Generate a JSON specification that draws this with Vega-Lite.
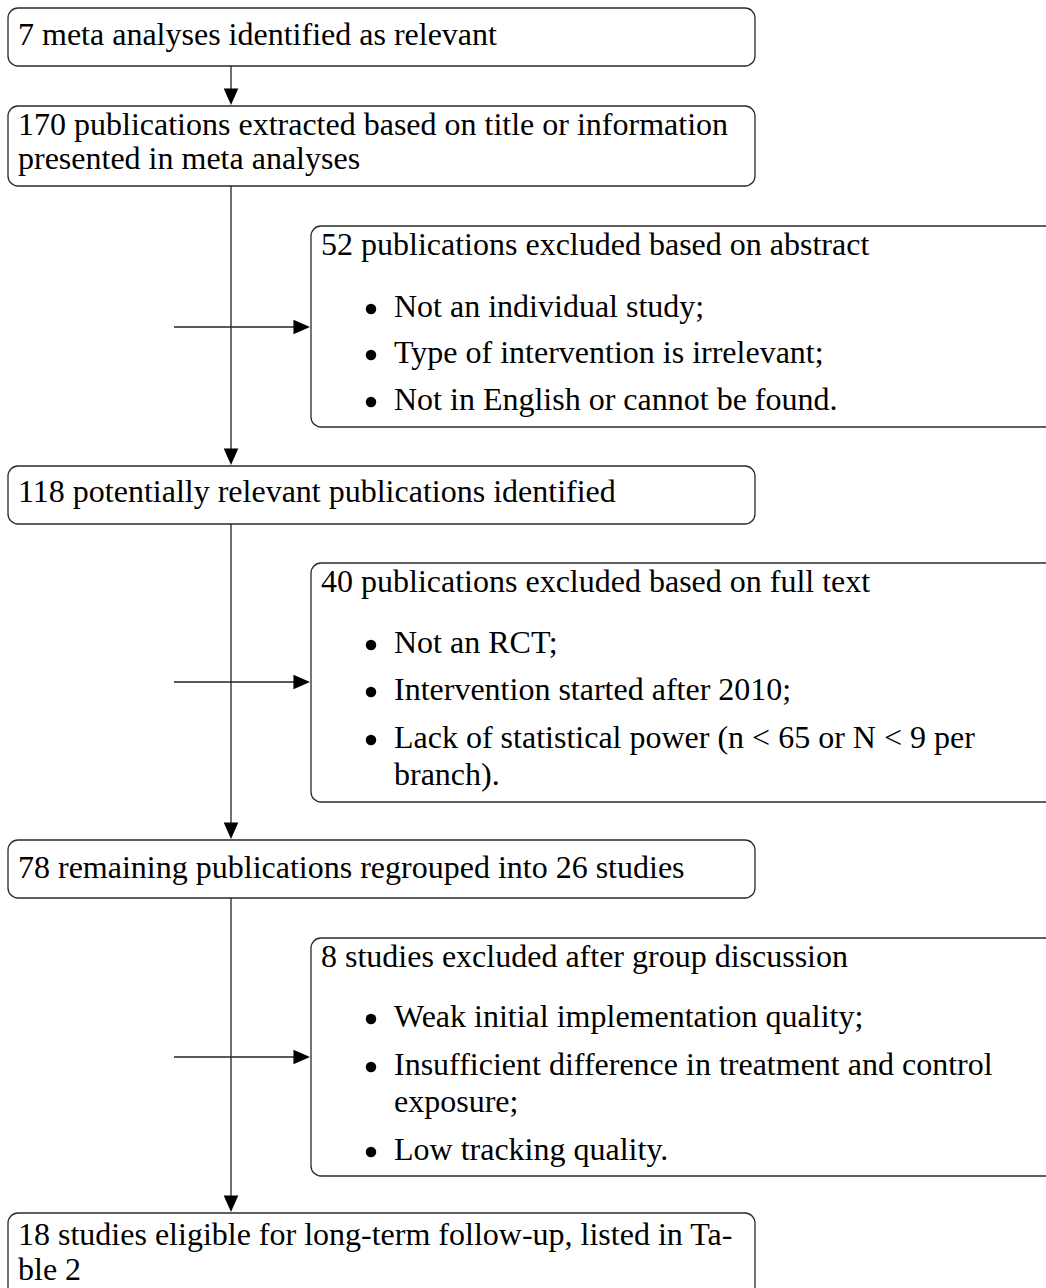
{
  "$schema": "https://vega.github.io/schema/vega-lite/v6.json",
  "width": 1046,
  "height": 1288,
  "autosize": "none",
  "padding": 0,
  "background": "white",
  "config": {"view": {"stroke": null}},
  "datasets": {
    "boxes": [
      {"x": 8, "x2": 755, "y": 8, "y2": 66},
      {"x": 8, "x2": 755, "y": 106, "y2": 186},
      {"x": 311, "x2": 1080, "y": 226, "y2": 427},
      {"x": 8, "x2": 755, "y": 466, "y2": 524},
      {"x": 311, "x2": 1080, "y": 563, "y2": 802},
      {"x": 8, "x2": 755, "y": 840, "y2": 898},
      {"x": 311, "x2": 1080, "y": 938, "y2": 1176},
      {"x": 8, "x2": 755, "y": 1213, "y2": 1310}
    ],
    "links": [
      {"x": 231, "x2": 231, "y": 66, "y2": 100},
      {"x": 231, "x2": 231, "y": 186, "y2": 460},
      {"x": 231, "x2": 231, "y": 524, "y2": 834},
      {"x": 231, "x2": 231, "y": 898, "y2": 1207},
      {"x": 174, "x2": 305, "y": 327, "y2": 327},
      {"x": 174, "x2": 305, "y": 682, "y2": 682},
      {"x": 174, "x2": 305, "y": 1057, "y2": 1057}
    ],
    "heads": [
      {"x": 231, "y": 105, "dir": "down"},
      {"x": 231, "y": 465, "dir": "down"},
      {"x": 231, "y": 839, "dir": "down"},
      {"x": 231, "y": 1212, "dir": "down"},
      {"x": 310, "y": 327, "dir": "right"},
      {"x": 310, "y": 682, "dir": "right"},
      {"x": 310, "y": 1057, "dir": "right"}
    ],
    "bullets": [
      {"x": 371, "y": 309},
      {"x": 371, "y": 355},
      {"x": 371, "y": 402},
      {"x": 371, "y": 645},
      {"x": 371, "y": 692},
      {"x": 371, "y": 740},
      {"x": 371, "y": 1019},
      {"x": 371, "y": 1067},
      {"x": 371, "y": 1152}
    ],
    "labels": [
      {"x": 18, "y": 45, "text": "7 meta analyses identified as relevant"},
      {"x": 18, "y": 135, "text": "170 publications extracted based on title or information"},
      {"x": 18, "y": 169, "text": "presented in meta analyses"},
      {"x": 321, "y": 255, "text": "52 publications excluded based on abstract"},
      {"x": 394, "y": 317, "text": "Not an individual study;"},
      {"x": 394, "y": 363, "text": "Type of intervention is irrelevant;"},
      {"x": 394, "y": 410, "text": "Not in English or cannot be found."},
      {"x": 18, "y": 502, "text": "118 potentially relevant publications identified"},
      {"x": 321, "y": 592, "text": "40 publications excluded based on full text"},
      {"x": 394, "y": 653, "text": "Not an RCT;"},
      {"x": 394, "y": 700, "text": "Intervention started after 2010;"},
      {"x": 394, "y": 748, "text": "Lack of statistical power (n < 65 or N < 9 per"},
      {"x": 394, "y": 785, "text": "branch)."},
      {"x": 18, "y": 878, "text": "78 remaining publications regrouped into 26 studies"},
      {"x": 321, "y": 967, "text": "8 studies excluded after group discussion"},
      {"x": 394, "y": 1027, "text": "Weak initial implementation quality;"},
      {"x": 394, "y": 1075, "text": "Insufficient difference in treatment and control"},
      {"x": 394, "y": 1112, "text": "exposure;"},
      {"x": 394, "y": 1160, "text": "Low tracking quality."},
      {"x": 18, "y": 1245, "text": "18 studies eligible for long-term follow-up, listed in Ta-"},
      {"x": 18, "y": 1280, "text": "ble 2"}
    ]
  },
  "layer": [
    {
      "data": {"name": "boxes"},
      "mark": {"type": "rect", "fill": "white", "stroke": "#2a2a2a", "strokeWidth": 1.3, "cornerRadius": 10},
      "encoding": {
        "x": {"field": "x", "type": "quantitative", "scale": {"domain": [0, 1046], "nice": false, "zero": false}, "axis": null},
        "x2": {"field": "x2"},
        "y": {"field": "y", "type": "quantitative", "scale": {"domain": [0, 1288], "nice": false, "zero": false, "reverse": true}, "axis": null},
        "y2": {"field": "y2"}
      }
    },
    {
      "data": {"name": "links"},
      "mark": {"type": "rule", "color": "#222222", "strokeWidth": 1.3},
      "encoding": {
        "x": {"field": "x", "type": "quantitative"},
        "x2": {"field": "x2"},
        "y": {"field": "y", "type": "quantitative"},
        "y2": {"field": "y2"}
      }
    },
    {
      "data": {"name": "heads"},
      "transform": [{"filter": "datum.dir === 'down'"}],
      "mark": {"type": "point", "filled": true, "color": "black", "opacity": 1, "size": 1100, "shape": "M -0.44 -1 L 0.44 -1 L 0 0 Z"},
      "encoding": {
        "x": {"field": "x", "type": "quantitative"},
        "y": {"field": "y", "type": "quantitative"}
      }
    },
    {
      "data": {"name": "heads"},
      "transform": [{"filter": "datum.dir === 'right'"}],
      "mark": {"type": "point", "filled": true, "color": "black", "opacity": 1, "size": 1100, "shape": "M -1 -0.44 L -1 0.44 L 0 0 Z"},
      "encoding": {
        "x": {"field": "x", "type": "quantitative"},
        "y": {"field": "y", "type": "quantitative"}
      }
    },
    {
      "data": {"name": "bullets"},
      "mark": {"type": "point", "shape": "circle", "filled": true, "color": "black", "opacity": 1, "size": 110},
      "encoding": {
        "x": {"field": "x", "type": "quantitative"},
        "y": {"field": "y", "type": "quantitative"}
      }
    },
    {
      "data": {"name": "labels"},
      "mark": {"type": "text", "align": "left", "baseline": "alphabetic", "font": "'Liberation Serif', 'DejaVu Serif', serif", "fontSize": 32, "color": "black"},
      "encoding": {
        "x": {"field": "x", "type": "quantitative"},
        "y": {"field": "y", "type": "quantitative"},
        "text": {"field": "text"}
      }
    }
  ]
}
